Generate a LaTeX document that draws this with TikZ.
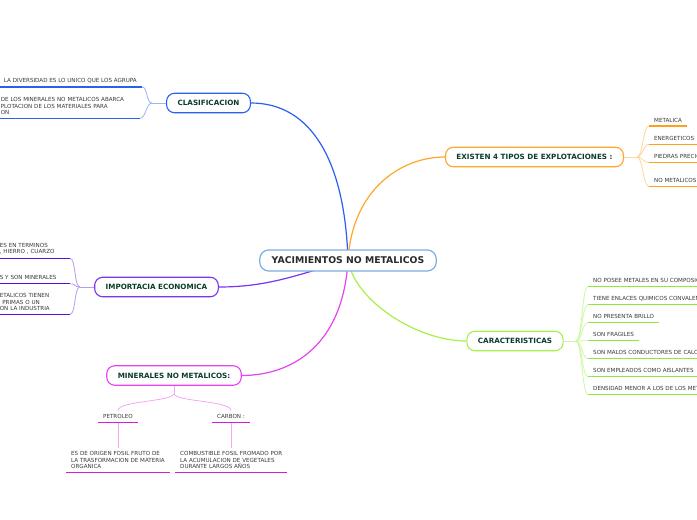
\documentclass[tikz,border=0pt]{standalone}
\usepackage{fontspec}
\setmainfont{DejaVu Sans}
\usetikzlibrary{backgrounds}
\definecolor{centerblue}{HTML}{7BAFE3}
\definecolor{darktext}{HTML}{2A2A2A}
\definecolor{topicgreen}{HTML}{0B3D2C}
\definecolor{leafgray}{HTML}{3A3A3A}
\definecolor{clasblue}{HTML}{2B5FF0}
\definecolor{clastwig}{HTML}{9DB3FA}
\definecolor{imppurple}{HTML}{7A35F0}
\definecolor{impline}{HTML}{5A0FD8}
\definecolor{imptwig}{HTML}{B79CF7}
\definecolor{explorange}{HTML}{FFA62B}
\definecolor{explline}{HTML}{FF9F1A}
\definecolor{expltwig}{HTML}{FFD59A}
\definecolor{cargreen}{HTML}{A6F04A}
\definecolor{carline}{HTML}{90E83A}
\definecolor{cartwig}{HTML}{CFF7A3}
\definecolor{minrpink}{HTML}{E545F0}
\definecolor{minrline}{HTML}{D81BD8}
\definecolor{minrtwig}{HTML}{F3A8F6}
\tikzset{
  every picture/.style={line join=round, line cap=round},
  central/.style={draw=centerblue, line width=1.2pt, fill=white, rounded corners=9pt,
    minimum height=21pt, inner xsep=12pt, text=darktext, font=\fontsize{9.3}{10}\selectfont\bfseries},
  topic/.style={draw=#1, line width=1.1pt, fill=white, rounded corners=8pt,
    minimum height=19.5pt, inner xsep=11pt, text=topicgreen, font=\fontsize{7.2}{8}\selectfont\bfseries},
  leaf/.style={inner xsep=5pt, inner ysep=3.7pt, text=leafgray, align=left,
    font=\fontsize{5.6}{6.2}\selectfont},
  link/.style={draw=#1, line width=1.2pt},
  twig/.style={draw=#1, line width=0.8pt},
  uline/.style={draw=#1, line width=1.4pt, line cap=butt},
}
\begin{document}
\begin{tikzpicture}[x=1pt, y=-1pt]
\useasboundingbox (0,0) rectangle (697,520);

% central and main topics
\node[central] (c) at (348,260.5) {YACIMIENTOS NO METALICOS};
\node[topic=clasblue] (clas) at (208.5,103) {CLASIFICACION};
\node[topic=imppurple] (imp) at (156.5,287) {IMPORTACIA ECONOMICA};
\node[topic=minrpink] (minr) at (174,375.5) {MINERALES NO METALICOS:};
\node[topic=explorange] (expl) at (534.5,157) {EXISTEN 4 TIPOS DE EXPLOTACIONES :};
\node[topic=cargreen] (car) at (515,341) {CARACTERISTICAS};

% clasificacion
\coordinate (clasj) at (152,103);
\node[leaf, anchor=south east] (clas1) at (142,87) {LA DIVERSIDAD ES LO UNICO QUE LOS AGRUPA};
\node[leaf, anchor=south east, text width=134pt] (clas2) at (140,118.3)
  {DE LOS MINERALES NO METALICOS ABARCA\\PLOTACION DE LOS MATERIALES PARA\\ON};

% importacia economica
\coordinate (impj) at (80,287);
\node[leaf, anchor=south east, text width=65pt] (imp1) at (70,258.3) {ES EN TERMINOS\\, HIERRO , CUARZO};
\node[leaf, anchor=south east, text width=65pt] (imp2) at (70,283.7) {S Y SON MINERALES};
\node[leaf, anchor=south east, text width=65pt] (imp3) at (70,314.3)
  {ETALICOS TIENEN\\\hspace*{2.5pt}PRIMAS O UN\\ON LA INDUSTRIA};

% explotaciones
\coordinate (explj) at (637,157);
\node[leaf, anchor=south west] (expl1) at (649,126) {METALICA};
\node[leaf, anchor=south west] (expl2) at (649,144.3) {ENERGETICOS};
\node[leaf, anchor=south west] (expl3) at (649,162.7) {PIEDRAS PRECIOSAS};
\node[leaf, anchor=south west] (expl4) at (649,186.7) {NO METALICOS};

% caracteristicas
\coordinate (carj) at (576,341);
\node[leaf, anchor=south west] (car1) at (588,286.7) {NO POSEE METALES EN SU COMPOSICION};
\node[leaf, anchor=south west] (car2) at (588,304.7) {TIENE ENLACES QUIMICOS CONVALENTES};
\node[leaf, anchor=south west] (car3) at (588,322.7) {NO PRESENTA BRILLO};
\node[leaf, anchor=south west] (car4) at (588,340.7) {SON FRAGILES};
\node[leaf, anchor=south west] (car5) at (588,358.7) {SON MALOS CONDUCTORES DE CALOR};
\node[leaf, anchor=south west] (car6) at (588,376.7) {SON EMPLEADOS COMO AISLANTES};
\node[leaf, anchor=south west] (car7) at (588,394.7) {DENSIDAD MENOR A LOS DE LOS METALES};

% minerales no metalicos
\coordinate (minrj) at (174,394);
\node[leaf, anchor=south] (petr) at (118,422.7) {PETROLEO};
\node[leaf, anchor=south] (carb) at (231,422.7) {CARBON :};
\node[leaf, anchor=south west] (petr1) at (66,472.3)
  {ES DE ORIGEN FOSIL FRUTO DE\\LA TRASFORMACION DE MATERIA\\ORGANICA};
\node[leaf, anchor=south west] (carb1) at (175,472.3)
  {COMBUSTIBLE FOSIL FROMADO POR\\LA ACUMULACION DE VEGETALES\\DURANTE LARGOS AÑOS};

% underlines
\foreach \n in {clas1,clas2} \draw[uline=clasblue] (\n.south west) -- (\n.south east);
\foreach \n in {imp1,imp2,imp3} \draw[uline=impline] (\n.south west) -- (\n.south east);
\foreach \n in {expl1,expl2,expl3,expl4} \draw[uline=explline] (\n.south west) -- (\n.south east);
\foreach \n in {car1,car2,car3,car4,car5,car6,car7} \draw[uline=carline] (\n.south west) -- (\n.south east);
\foreach \n in {petr,carb,petr1,carb1} \draw[uline=minrline] (\n.south west) -- (\n.south east);

\begin{scope}[on background layer]
\fill[white] (0,0) rectangle (697,520);
% main links
\draw[link=clasblue] (clas.east) .. controls +(60,0) and +(-3,-100) .. (c.center);
\draw[link=imppurple] (imp.east) .. controls +(50,0) and +(-50,14) .. (c.center);
\draw[link=minrpink] (minr.east) .. controls +(50,0) and +(-5,85) .. (c.center);
\draw[link=explorange] (expl.west) .. controls +(-45,0) and +(4,-70) .. (c.center);
\draw[link=cargreen] (car.west) .. controls +(-50,0) and +(7,40) .. (c.center);
% twigs
\draw[twig=clastwig] (clas.west) -- (clasj);
\foreach \n in {clas1,clas2}
  \draw[twig=clastwig] (clasj) .. controls +(-6,0) and +(6,0) .. (\n.south east);
\draw[twig=imptwig] (imp.west) -- (impj);
\foreach \n in {imp1,imp2,imp3}
  \draw[twig=imptwig] (impj) .. controls +(-6,0) and +(6,0) .. (\n.south east);
\draw[twig=expltwig] (expl.east) -- (explj);
\foreach \n in {expl1,expl2,expl3,expl4}
  \draw[twig=expltwig] (explj) .. controls +(6,0) and +(-6,0) .. (\n.south west);
\draw[twig=cartwig] (car.east) -- (carj);
\foreach \n in {car1,car2,car3,car4,car5,car6,car7}
  \draw[twig=cartwig] (carj) .. controls +(6,0) and +(-6,0) .. (\n.south west);
\draw[twig=minrtwig] (minr.south) -- (minrj);
\draw[twig=minrtwig] (minrj) .. controls +(-4,8) and +(0,-10) .. (petr.north);
\draw[twig=minrtwig] (minrj) .. controls +(4,8) and +(0,-10) .. (carb.north);
\draw[twig=minrtwig] (petr.south) -- (petr.south |- petr1.north);
\draw[twig=minrtwig] (carb.south) -- (carb.south |- carb1.north);
\end{scope}
\end{tikzpicture}
\end{document}
